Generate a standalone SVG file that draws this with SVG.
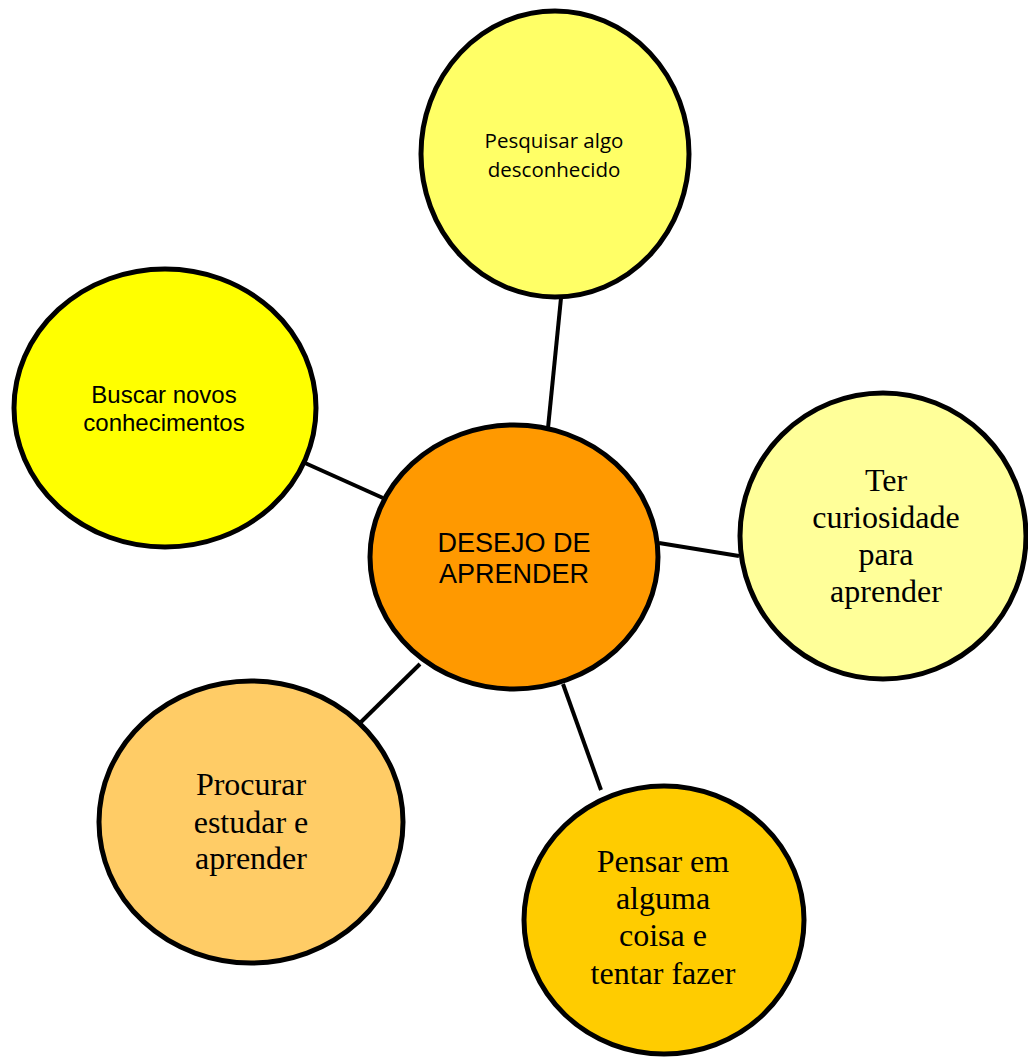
<svg xmlns="http://www.w3.org/2000/svg" width="1028" height="1057" viewBox="0 0 1028 1057">
<style>
.n{stroke:#000;stroke-width:5}
.c line{stroke:#000;stroke-width:4}
text{text-anchor:middle;fill:#000}
.cal{font-family:"Open Sans","Noto Sans",sans-serif;font-size:20.5px}
.ar{font-family:"Liberation Sans",Arial,sans-serif;font-size:24px}
.arb{font-family:"Liberation Sans",Arial,sans-serif;font-size:27px}
.tm{font-family:"Liberation Serif","Times New Roman",serif;font-size:32px}
</style>
<rect width="1028" height="1057" fill="#fff"/>
<g class="c" id="connectors">
<line x1="561" y1="298" x2="548" y2="428"/>
<line x1="305" y1="463" x2="383" y2="498"/>
<line x1="659" y1="543" x2="739" y2="556"/>
<line x1="361" y1="722" x2="420" y2="664"/>
<line x1="563" y1="684" x2="601" y2="790"/>
</g>
<g id="top">
<ellipse class="n" cx="555" cy="154" rx="134" ry="143" fill="#FFFF66"/>
<text class="cal" x="554" y="148">Pesquisar algo</text>
<text class="cal" x="554" y="177">desconhecido</text>
</g>
<g id="left">
<ellipse class="n" cx="165" cy="408" rx="151" ry="139" fill="#FFFF00"/>
<text class="ar" x="164" y="403">Buscar novos</text>
<text class="ar" x="164" y="431">conhecimentos</text>
</g>
<g id="right">
<ellipse class="n" cx="883" cy="536" rx="143" ry="143" fill="#FFFF99"/>
<text class="tm" x="886" y="491">Ter</text>
<text class="tm" x="886" y="528">curiosidade</text>
<text class="tm" x="886" y="565">para</text>
<text class="tm" x="886" y="602">aprender</text>
</g>
<g id="bottomleft">
<ellipse class="n" cx="251" cy="822" rx="152" ry="141" fill="#FFCC66"/>
<text class="tm" x="251" y="795">Procurar</text>
<text class="tm" x="251" y="833">estudar e</text>
<text class="tm" x="251" y="869">aprender</text>
</g>
<g id="bottomright">
<ellipse class="n" cx="664" cy="920" rx="140" ry="134" fill="#FFCC00"/>
<text class="tm" x="663" y="872">Pensar em</text>
<text class="tm" x="663" y="909">alguma</text>
<text class="tm" x="663" y="946">coisa e</text>
<text class="tm" x="663" y="984">tentar fazer</text>
</g>
<g id="center">
<ellipse class="n" cx="514" cy="557" rx="144" ry="132" fill="#FF9900"/>
<text class="arb" x="514" y="552">DESEJO DE</text>
<text class="arb" x="514" y="583">APRENDER</text>
</g>
</svg>
